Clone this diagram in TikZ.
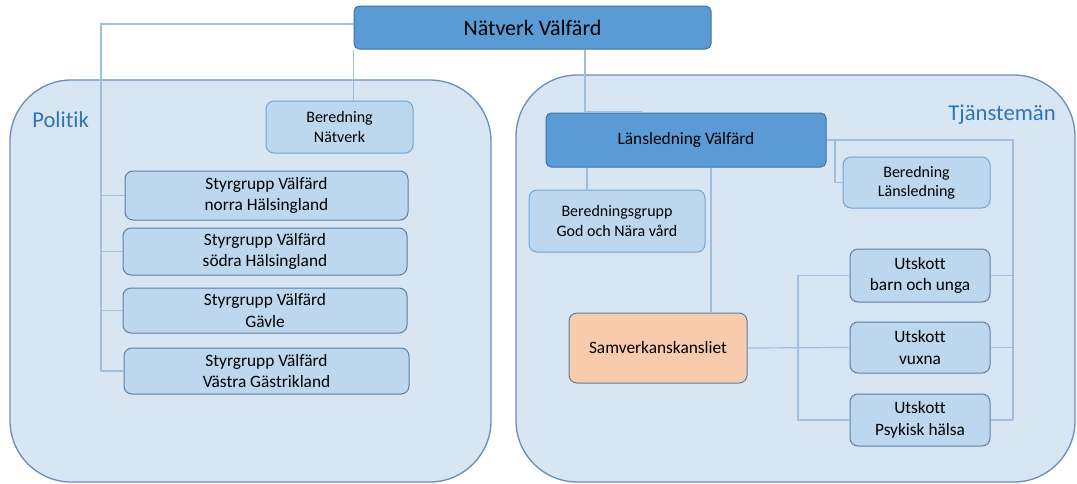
\documentclass[tikz,border=0pt]{standalone}
\usepackage{fontspec}
\setmainfont{Carlito}[Ligatures=NoCommon]
\usetikzlibrary{positioning}

\definecolor{headblue}{HTML}{5B9BD5}
\definecolor{headline}{HTML}{41719C}
\definecolor{boxblue}{HTML}{BDD7EE}
\definecolor{boxline}{HTML}{5A7FA6}
\definecolor{prepline}{HTML}{6FA6DB}
\definecolor{areablue}{HTML}{D8E6F3}
\definecolor{arealine}{HTML}{6A8FBB}
\definecolor{titleblue}{HTML}{2E75B6}
\definecolor{connblue}{HTML}{9EBFE0}
\definecolor{kansli}{HTML}{F8CBAD}

\begin{document}
\begin{tikzpicture}[
    x=0.75pt,
    y=-0.75pt,
    head/.style={
        draw=headline,
        fill=headblue,
        line width=0.75pt,
        rounded corners=4pt,
        inner sep=0pt,
        align=center,
        font=\fontsize{13}{16}\selectfont
    },
    unit/.style={
        draw=boxline,
        fill=boxblue,
        line width=0.75pt,
        rounded corners=6pt,
        inner sep=0pt,
        align=center,
        font=\fontsize{13}{16}\selectfont
    },
    prep/.style={
        unit,
        draw=prepline,
        font=\fontsize{12}{14.5}\selectfont
    },
    office/.style={
        unit,
        fill=kansli
    },
    area/.style={
        draw=arealine,
        fill=areablue,
        line width=1pt,
        rounded corners=46pt
    },
    areatitle/.style={
        text=titleblue,
        inner sep=0pt,
        font=\fontsize{17}{20}\selectfont
    },
    conn/.style={
        draw=connblue,
        line width=0.9pt
    }
]

\useasboundingbox (0,0) rectangle (1077,483);

%%%%%%%%%%%%%%%%%%%%%%%%%%%%%%%%%%%%%%%%%%%%%%%%%%%%
%% Areas
%%%%%%%%%%%%%%%%%%%%%%%%%%%%%%%%%%%%%%%%%%%%%%%%%%%%

\draw[area] (10,80) rectangle (491,482);
\draw[area] (516,75) rectangle (1075,482);

\node[areatitle,anchor=base west] (politik) at (32,127) {Politik};
\node[areatitle,anchor=base east] (tjanst) at (1056,120) {Tjänstemän};

%%%%%%%%%%%%%%%%%%%%%%%%%%%%%%%%%%%%%%%%%%%%%%%%%%%%
%% Top
%%%%%%%%%%%%%%%%%%%%%%%%%%%%%%%%%%%%%%%%%%%%%%%%%%%%

\node[head,minimum width=267.75pt,minimum height=32.25pt,
    font=\fontsize{16.5}{20}\selectfont] (natverk) at (532.5,27.5)
{Nätverk Välfärd};

%%%%%%%%%%%%%%%%%%%%%%%%%%%%%%%%%%%%%%%%%%%%%%%%%%%%
%% Politik
%%%%%%%%%%%%%%%%%%%%%%%%%%%%%%%%%%%%%%%%%%%%%%%%%%%%

\node[prep,minimum width=110.25pt,minimum height=39pt] (bernat) at (339.5,127)
{Beredning\\Nätverk};

\node[unit,minimum width=212.25pt,minimum height=36.75pt] (styrnorra) at (266.5,195.5)
{Styrgrupp Välfärd\\norra Hälsingland};

\node[unit,minimum width=213pt,minimum height=35.25pt] (styrsodra) at (265,251.5)
{Styrgrupp Välfärd\\södra Hälsingland};

\node[unit,minimum width=213pt,minimum height=33.75pt] (styrgavle) at (265,310.5)
{Styrgrupp Välfärd\\Gävle};

\node[unit,minimum width=213.75pt,minimum height=34.5pt] (styrvastra) at (266.5,371)
{Styrgrupp Välfärd\\Västra Gästrikland};

%%%%%%%%%%%%%%%%%%%%%%%%%%%%%%%%%%%%%%%%%%%%%%%%%%%%
%% Tjänstemän
%%%%%%%%%%%%%%%%%%%%%%%%%%%%%%%%%%%%%%%%%%%%%%%%%%%%

\node[head,minimum width=210pt,minimum height=40.5pt] (lans) at (686,140)
{Länsledning Välfärd};

\node[prep,minimum width=110.25pt,minimum height=38.25pt] (berlans) at (916.5,182.5)
{Beredning\\Länsledning};

\node[prep,minimum width=132pt,minimum height=46.5pt] (bergrupp) at (617,221)
{Beredningsgrupp\\God och Nära vård};

\node[office,minimum width=133.5pt,minimum height=52.5pt] (samverk) at (658,348)
{Samverkanskansliet};

\node[unit,minimum width=105pt,minimum height=39.75pt] (utbarn) at (920,275.5)
{Utskott\\barn och unga};

\node[unit,minimum width=105pt,minimum height=38.25pt] (utvuxna) at (920,347.5)
{Utskott\\vuxna};

\node[unit,minimum width=105pt,minimum height=39pt] (utpsyk) at (920,420)
{Utskott\\Psykisk hälsa};

%%%%%%%%%%%%%%%%%%%%%%%%%%%%%%%%%%%%%%%%%%%%%%%%%%%%
%% Connectors
%%%%%%%%%%%%%%%%%%%%%%%%%%%%%%%%%%%%%%%%%%%%%%%%%%%%

\coordinate (polspine) at (101,24);
\coordinate (lanskink) at (585,112);
\coordinate (lanskinkend) at (642,112);
\coordinate (berlanstap) at (835,0);
\coordinate (grupptap) at (587,0);
\coordinate (samtap) at (711,0);
\coordinate (samspine) at (798,0);
\coordinate (utspine) at (1013,0);

\draw[conn] (natverk.west |- polspine) -- (polspine) -- (polspine |- styrvastra.west);
\foreach \n in {styrnorra,styrsodra,styrgavle,styrvastra}
    \draw[conn] (polspine |- \n.west) -- (\n.west);

\draw[conn] (natverk.south west) -- (natverk.south west |- bernat.north);

\draw[conn] (natverk.south -| lanskink) -- (lanskink) -- (lanskinkend);

\draw[conn] (lans.east) -| (utspine |- utpsyk.east);
\foreach \n in {utbarn,utvuxna,utpsyk}
    \draw[conn] (\n.east) -- (utspine |- \n.east);

\draw[conn] (berlanstap |- lans.east) |- (berlans.west);

\draw[conn] (grupptap |- lans.south) -- (grupptap |- bergrupp.north);
\draw[conn] (samtap |- lans.south) -- (samtap |- samverk.north);

\draw[conn] (samverk.east) -- (utvuxna.west);
\draw[conn] (utbarn.west) -| (samspine |- utpsyk.west) -- (utpsyk.west);

\end{tikzpicture}
\end{document}
